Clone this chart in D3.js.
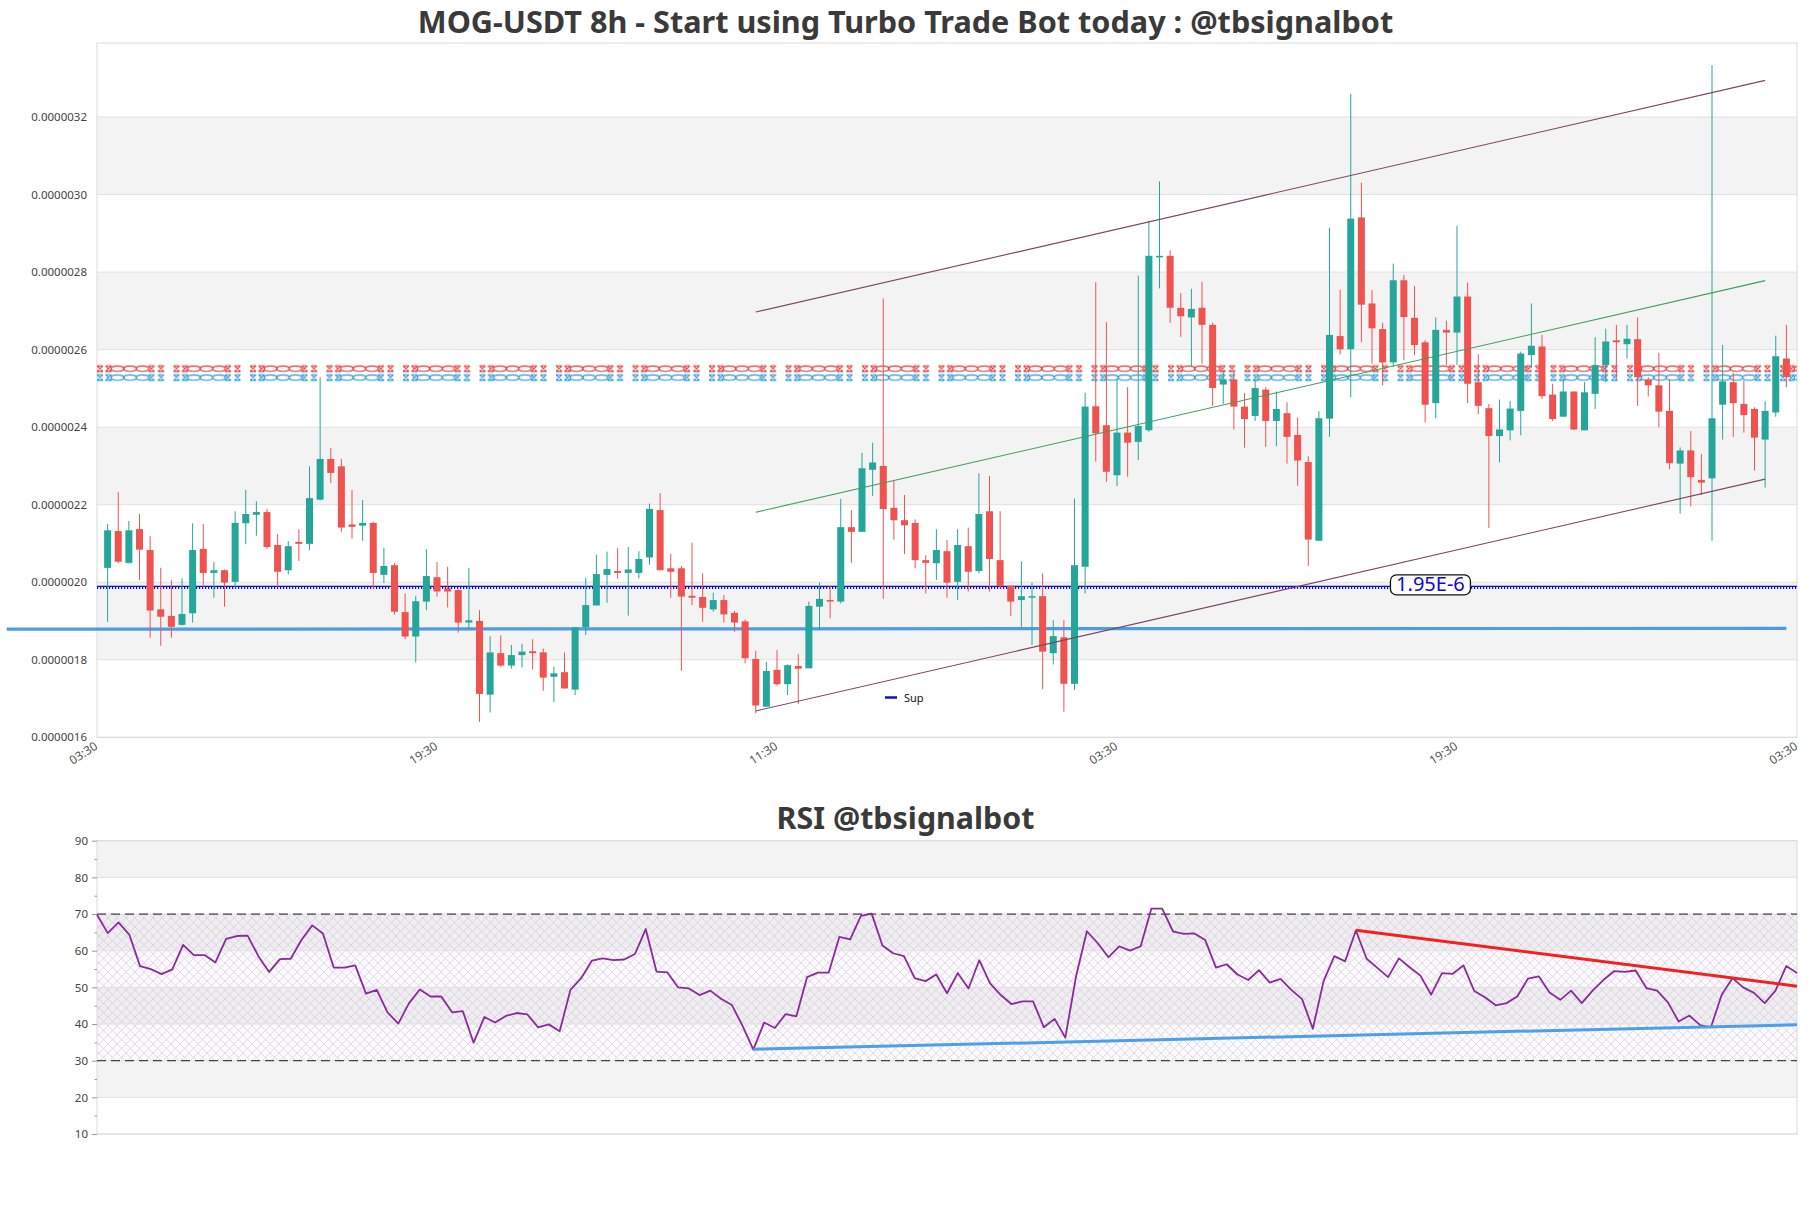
<!DOCTYPE html>
<html><head><meta charset="utf-8">
<script src="https://cdn.jsdelivr.net/npm/d3@7/dist/d3.min.js"></script>
<style>body{margin:0;background:#fff;} svg{display:block;}</style>
</head><body><svg id="c" width="1811" height="1208"></svg>
<script>
// ---------------- DATA (prices in units of 1e-6) ----------------
const mainTitle = "MOG-USDT 8h - Start using Turbo Trade Bot today : @tbsignalbot";
const rsiTitle = "RSI @tbsignalbot";
const candleIndex = d3.range(1, 160);
const opens = [2.037,2.132,2.050,2.137,2.083,1.930,1.913,1.890,1.920,2.086,2.024,2.031,2.001,2.152,2.174,2.181,2.096,2.031,2.104,2.099,
2.213,2.318,2.299,2.149,2.146,2.153,2.019,2.044,1.923,1.860,1.950,2.013,1.984,1.980,1.896,1.900,1.710,1.817,1.785,1.812,
1.822,1.819,1.756,1.768,1.723,1.884,1.940,2.019,2.029,2.024,2.024,2.064,2.186,2.036,2.036,1.965,1.962,1.930,1.954,1.921,
1.899,1.802,1.679,1.774,1.737,1.784,1.778,1.937,1.954,1.950,2.142,2.130,2.290,2.300,2.192,2.160,2.153,2.057,2.049,2.080,
2.001,2.093,2.029,2.183,2.057,1.991,1.954,1.961,1.964,1.817,1.858,1.738,2.040,2.454,2.405,2.276,2.386,2.362,2.392,2.838,
2.842,2.708,2.683,2.708,2.664,2.510,2.523,2.453,2.429,2.497,2.416,2.436,2.380,2.310,2.107,2.422,2.635,2.601,2.941,2.719,
2.653,2.567,2.779,2.682,2.619,2.462,2.651,2.644,2.737,2.516,2.449,2.377,2.392,2.442,2.586,2.608,2.484,2.427,2.492,2.392,
2.486,2.560,2.624,2.614,2.627,2.523,2.508,2.442,2.306,2.340,2.264,2.268,2.458,2.516,2.460,2.447,2.368,2.438,2.577];
const highs = [2.150,2.232,2.158,2.176,2.119,2.037,2.006,2.010,2.152,2.150,2.052,2.033,2.183,2.238,2.209,2.189,2.124,2.106,2.137,2.299,
2.529,2.346,2.318,2.238,2.212,2.155,2.089,2.049,1.971,1.965,2.085,2.052,2.040,1.982,2.037,1.928,1.861,1.863,1.838,1.841,
1.853,1.829,1.782,1.819,1.884,2.012,2.071,2.079,2.088,2.091,2.080,2.203,2.230,2.073,2.042,2.102,2.023,1.973,1.967,1.926,
1.904,1.823,1.795,1.825,1.788,1.815,1.950,1.999,1.991,2.215,2.186,2.334,2.360,2.732,2.261,2.225,2.162,2.070,2.137,2.109,
2.137,2.141,2.281,2.274,2.183,1.991,2.054,1.999,2.023,1.902,1.902,2.216,2.489,2.774,2.671,2.525,2.503,2.791,2.933,3.034,
2.856,2.746,2.757,2.775,2.670,2.547,2.542,2.488,2.523,2.503,2.492,2.464,2.425,2.325,2.441,2.915,2.755,3.260,3.031,2.754,
2.670,2.822,2.793,2.764,2.625,2.683,2.675,2.919,2.773,2.588,2.460,2.471,2.468,2.595,2.719,2.638,2.512,2.523,2.492,2.516,
2.632,2.654,2.664,2.664,2.683,2.529,2.592,2.523,2.348,2.390,2.331,3.334,2.612,2.540,2.521,2.451,2.467,2.636,2.664];
const lows = [1.898,2.050,2.048,2.006,1.857,1.836,1.857,1.888,1.896,1.988,1.960,1.937,1.984,2.098,2.120,2.086,1.988,2.020,2.055,2.083,
2.211,2.256,2.130,2.112,2.107,1.982,1.998,1.917,1.853,1.793,1.928,1.963,1.935,1.870,1.881,1.640,1.664,1.782,1.777,1.780,
1.775,1.720,1.691,1.726,1.709,1.864,1.940,1.947,2.009,1.914,2.010,2.045,2.030,1.960,1.772,1.941,1.898,1.924,1.896,1.872,
1.791,1.662,1.679,1.733,1.709,1.686,1.778,1.877,1.907,1.945,2.050,2.130,2.223,1.957,2.110,2.073,2.036,1.971,2.006,1.960,
1.954,1.976,2.023,1.976,1.984,1.913,1.885,1.838,1.724,1.788,1.666,1.722,1.971,2.311,2.259,2.248,2.272,2.315,2.388,2.758,
2.669,2.633,2.557,2.564,2.455,2.460,2.394,2.347,2.416,2.349,2.351,2.306,2.249,2.042,2.107,2.375,2.588,2.477,2.619,2.564,
2.508,2.555,2.573,2.586,2.412,2.423,2.560,2.560,2.462,2.434,2.140,2.309,2.366,2.379,2.553,2.473,2.416,2.427,2.392,2.392,
2.447,2.516,2.525,2.577,2.455,2.479,2.400,2.292,2.177,2.196,2.225,2.107,2.368,2.375,2.386,2.288,2.244,2.427,2.503];
const closes = [2.134,2.053,2.134,2.084,1.927,1.911,1.885,1.918,2.083,2.024,2.031,1.999,2.153,2.176,2.181,2.091,2.027,2.093,2.099,2.217,
2.318,2.282,2.141,2.143,2.153,2.024,2.042,1.924,1.860,1.951,2.016,1.976,1.976,1.896,1.902,1.712,1.819,1.785,1.812,1.821,
1.817,1.754,1.765,1.726,1.884,1.941,2.021,2.034,2.024,2.033,2.060,2.189,2.031,2.027,1.963,1.960,1.934,1.954,1.917,1.896,
1.804,1.682,1.771,1.737,1.786,1.777,1.939,1.957,1.951,2.142,2.130,2.294,2.309,2.189,2.160,2.147,2.057,2.050,2.083,1.999,
2.096,2.027,2.176,2.060,1.990,1.950,1.964,1.964,1.821,1.861,1.738,2.044,2.453,2.384,2.285,2.386,2.360,2.403,2.842,2.842,
2.708,2.686,2.705,2.664,2.501,2.523,2.453,2.421,2.501,2.416,2.447,2.375,2.314,2.110,2.423,2.638,2.601,2.938,2.716,2.655,
2.567,2.779,2.684,2.612,2.458,2.651,2.644,2.737,2.512,2.455,2.377,2.394,2.448,2.590,2.610,2.480,2.421,2.492,2.394,2.490,
2.560,2.621,2.619,2.628,2.529,2.508,2.440,2.307,2.340,2.271,2.257,2.423,2.518,2.462,2.431,2.373,2.442,2.583,2.529];
const priceTicks = [1.6,1.8,2.0,2.2,2.4,2.6,2.8,3.0,3.2];
const priceTickLabels = ["0.0000016","0.0000018","0.0000020","0.0000022","0.0000024","0.0000026","0.0000028","0.0000030","0.0000032"];
const timeTickIndex = [0,32,64,96,128,160];
const timeTickLabels = ["03:30","19:30","11:30","03:30","19:30","03:30"];
// trend channel lines [index, price]
const channelUpper = [[62,2.697],[157,3.2945]];
const channelMid = [[62,2.1806],[157,2.778]];
const channelLower = [[62,1.668],[157,2.266]];
const resistRed = 2.551, resistBlue = 2.528;
const supLevel = 1.988, supLabel = "1.95E-6", supLabelIndex = 125.5, supLegend = "Sup";
const baseLine = [[-8.5,1.879],[159,1.881]];
// RSI
const rsiValues = [69.8,64.8,67.7,64.4,55.8,55.0,53.6,54.9,61.6,58.8,58.8,56.8,63.2,64.0,64.1,58.5,54.2,57.7,57.8,62.9,
66.9,64.7,55.4,55.4,56.0,48.3,49.3,43.2,40.1,45.7,49.4,47.5,47.5,43.2,43.5,34.9,41.9,40.4,42.2,43.0,
42.6,39.1,39.9,38.0,49.3,52.5,57.3,57.9,57.4,57.6,59.1,65.9,54.3,54.1,50.0,49.7,47.9,49.1,46.9,45.2,
39.5,33.0,40.4,38.9,42.7,42.1,52.8,54.0,54.0,63.8,63.1,69.5,70.1,61.4,59.3,58.5,52.5,51.7,53.5,48.4,
53.9,49.7,57.4,51.1,47.9,45.4,46.2,46.2,39.1,41.4,36.3,53.1,65.3,62.1,58.2,61.2,60.0,61.2,71.5,71.5,
65.3,64.6,64.7,62.9,55.4,56.3,53.5,52.0,54.7,51.3,52.3,49.3,46.8,38.7,51.7,58.5,57.1,65.5,57.8,55.3,
52.8,57.9,55.5,53.2,48.0,53.9,53.7,56.0,49.0,47.3,45.1,45.7,47.5,52.4,53.0,48.6,46.6,49.1,45.7,49.1,
52.0,54.4,54.2,54.6,49.8,49.1,45.9,40.7,42.3,39.7,39.1,48.0,52.5,50.0,48.5,45.7,49.1,55.8,53.9];
const rsiTicks = [10,20,30,40,50,60,70,80,90];
const rsiMinorTicks = [15,25,35,45,55,65,75,85];
const rsiLevels = [30,70];
const rsiResistance = [[117,65.6],[158,50.3]];
const rsiSupport = [[61,33.1],[158,39.8]];

// ---------------- DRAWING ----------------
const svg = d3.select('#c');
const defs = svg.append('defs');
const FONT = "'Noto Sans', 'Open Sans', sans-serif";
const M = {l:97, r:1797, t:43, b:737.3};
const x = d3.scaleLinear().domain([0,160]).range([M.l, M.r]);
const y = d3.scaleLinear().domain([1.6,3.391]).range([M.b, M.t]);

function fitTitle(txt, cx, baseline, target){
  const t = svg.append('text').attr('x',cx).attr('y',baseline).attr('text-anchor','middle')
    .attr('font-family',FONT).attr('font-weight','bold').attr('font-size',28).attr('fill','#3a3a3a').text(txt);
  const len = t.node().getComputedTextLength();
  t.attr('font-size', 28*target/len);
}
fitTitle(mainTitle, 905.5, 32.5, 976);

const gMain = svg.append('g');
gMain.append('rect').attr('x',M.l).attr('y',M.t).attr('width',M.r-M.l).attr('height',M.b-M.t).attr('fill','#fff');
priceTicks.forEach((v,k)=>{
  if(k%2===1 && k+1<priceTicks.length){
    gMain.append('rect').attr('x',M.l).attr('width',M.r-M.l)
      .attr('y',y(priceTicks[k+1])).attr('height',y(v)-y(priceTicks[k+1])).attr('fill','#f3f3f3');
  }
});
gMain.selectAll('line.grid').data(priceTicks).join('line').attr('class','grid')
  .attr('x1',M.l).attr('x2',M.r).attr('y1',d=>y(d)).attr('y2',d=>y(d)).attr('stroke','#e1e1e1').attr('stroke-width',1);
gMain.append('rect').attr('x',M.l).attr('y',M.t).attr('width',M.r-M.l).attr('height',M.b-M.t)
  .attr('fill','none').attr('stroke','#dadada').attr('stroke-width',1);

const yAxis = d3.axisLeft(y).tickValues(priceTicks).tickFormat((d,i)=>priceTickLabels[i]).tickSize(0).tickPadding(10);
const ya = svg.append('g').attr('transform',`translate(${M.l},0)`).call(yAxis);
ya.select('.domain').remove();
ya.selectAll('text').attr('font-family',FONT).attr('font-size',11.5).attr('fill','#444');

const xAxis = d3.axisBottom(x).tickValues(timeTickIndex).tickFormat((d,i)=>timeTickLabels[i]).tickSize(0);
const xa = svg.append('g').attr('transform',`translate(0,${M.b})`).call(xAxis);
xa.select('.domain').remove();
xa.selectAll('text').attr('font-family',FONT).attr('font-size',12).attr('fill','#555')
  .attr('text-anchor','end').attr('dy',null).attr('y',0)
  .attr('transform','translate(1,11) rotate(-33)');

function braid(id, color, level){
  const yy = y(level);
  const p = defs.append('pattern').attr('id',id).attr('patternUnits','userSpaceOnUse')
    .attr('x',M.l).attr('y',yy-4).attr('width',76.5).attr('height',8);
  const g = p.append('g').attr('fill','none').attr('stroke',color).attr('stroke-width',1.15);
  [3,11.5,54.5,64].forEach(cx=>g.append('path')
    .attr('d',`M${cx-3},1.2L${cx+3},6.8M${cx-3},6.8L${cx+3},1.2M${cx-3},1.2H${cx+3}M${cx-3},6.8H${cx+3}`));
  [20.5,33,45.5].forEach(cx=>g.append('ellipse').attr('cx',cx).attr('cy',4).attr('rx',6.3).attr('ry',2.7));
  svg.append('rect').attr('x',M.l).attr('y',yy-4).attr('width',M.r-M.l).attr('height',8).attr('fill',`url(#${id})`);
}
braid('brR','#e03535',resistRed);
braid('brB','#2a95d8',resistBlue);

const ys = y(supLevel);
svg.append('line').attr('x1',M.l).attr('x2',M.r).attr('y1',ys-0.5).attr('y2',ys-0.5).attr('stroke','#1010c8').attr('stroke-width',1.3);
svg.append('line').attr('x1',M.l).attr('x2',M.r).attr('y1',ys+1.2).attr('y2',ys+1.2).attr('stroke','#1010c8')
  .attr('stroke-width',2).attr('stroke-dasharray','1.2,1.8');

const lineGen = d3.line().x(d=>x(d[0])).y(d=>y(d[1]));
svg.append('path').attr('d',lineGen(baseLine)).attr('stroke','#4497e6').attr('stroke-width',3.2).attr('fill','none').attr('opacity',0.95);

const bodyW = (x(1)-x(0))*0.66;
const gc = svg.append('g');
candleIndex.forEach((ix,k)=>{
  const o=opens[k], h=highs[k], l=lows[k], c=closes[k];
  const col = c>=o ? '#26a69a' : '#ef5350';
  const cx = x(ix);
  gc.append('line').attr('x1',cx).attr('x2',cx).attr('y1',y(h)).attr('y2',y(l)).attr('stroke',col).attr('stroke-width',1);
  const top = y(Math.max(o,c)), bot = y(Math.min(o,c));
  gc.append('rect').attr('x',cx-bodyW/2).attr('width',bodyW).attr('y',top).attr('height',Math.max(1.5,bot-top)).attr('fill',col);
});

[[channelUpper,'#7e4560'],[channelLower,'#7e4560'],[channelMid,'#3f9f57']].forEach(([pts,col])=>{
  svg.append('path').attr('d',lineGen(pts)).attr('stroke',col).attr('stroke-width',1.1).attr('fill','none');
});

const lx = x(supLabelIndex);
const lg = svg.append('g');
lg.append('rect').attr('x',lx-40).attr('y',ys-12).attr('width',80).attr('height',20).attr('rx',6)
  .attr('fill','#fff').attr('stroke','#111').attr('stroke-width',1.3);
lg.append('text').attr('x',lx).attr('y',ys+4.5).attr('text-anchor','middle').attr('font-family',FONT)
  .attr('font-size',20).attr('fill','#0a0ae6').text(supLabel);

svg.append('line').attr('x1',885).attr('x2',897).attr('y1',697.5).attr('y2',697.5).attr('stroke','#1010c8').attr('stroke-width',2.5);
svg.append('text').attr('x',904).attr('y',701.5).attr('font-family',FONT).attr('font-size',11).attr('fill','#111').text(supLegend);

// ---------------- RSI PANEL ----------------
const R = {l:97, r:1797, t:840.7, b:1134};
const rx = d3.scaleLinear().domain([0, rsiValues.length-1]).range([R.l, R.r]);
const ry = d3.scaleLinear().domain([10,90]).range([R.b, R.t]);
fitTitle(rsiTitle, 905.5, 829, 258);

svg.append('rect').attr('x',R.l).attr('y',R.t).attr('width',R.r-R.l).attr('height',R.b-R.t).attr('fill','#fff');
rsiTicks.forEach((v,k)=>{
  if(k%2===1 && k+1<rsiTicks.length){
    svg.append('rect').attr('x',R.l).attr('width',R.r-R.l).attr('y',ry(rsiTicks[k+1])).attr('height',ry(v)-ry(rsiTicks[k+1])).attr('fill','#f3f3f3');
  }
});
const hp = defs.append('pattern').attr('id','hatch').attr('patternUnits','userSpaceOnUse').attr('width',9).attr('height',9);
hp.append('path').attr('d','M0,0L9,9M9,0L0,9').attr('stroke','#cbbfd6').attr('stroke-width',0.65).attr('fill','none');
svg.append('rect').attr('x',R.l).attr('width',R.r-R.l).attr('y',ry(70)).attr('height',ry(30)-ry(70)).attr('fill','rgba(140,90,170,0.035)');
svg.append('rect').attr('x',R.l).attr('width',R.r-R.l).attr('y',ry(70)).attr('height',ry(30)-ry(70)).attr('fill','url(#hatch)').attr('opacity',0.85);
svg.selectAll('line.rgrid').data(rsiTicks).join('line').attr('class','rgrid')
  .attr('x1',R.l).attr('x2',R.r).attr('y1',d=>ry(d)).attr('y2',d=>ry(d)).attr('stroke','#e1e1e1');
svg.append('rect').attr('x',R.l).attr('y',R.t).attr('width',R.r-R.l).attr('height',R.b-R.t)
  .attr('fill','none').attr('stroke','#dadada');
rsiLevels.forEach(v=>svg.append('line').attr('x1',R.l).attr('x2',R.r).attr('y1',ry(v)).attr('y2',ry(v))
  .attr('stroke','#444').attr('stroke-width',1.2).attr('stroke-dasharray','9,5'));
const ra = svg.append('g').attr('transform',`translate(${R.l},0)`)
  .call(d3.axisLeft(ry).tickValues(rsiTicks).tickSize(5).tickPadding(4));
ra.select('.domain').remove();
ra.selectAll('line').attr('stroke','#999');
ra.selectAll('text').attr('font-family',FONT).attr('font-size',11.5).attr('fill','#444');
const rm = svg.append('g').attr('transform',`translate(${R.l},0)`)
  .call(d3.axisLeft(ry).tickValues(rsiMinorTicks).tickSize(2.5).tickFormat(''));
rm.select('.domain').remove();
rm.selectAll('line').attr('stroke','#999');
svg.append('path').datum(rsiValues).attr('d',d3.line().x((d,i)=>rx(i)).y(d=>ry(d)))
  .attr('fill','none').attr('stroke','#8b2a9c').attr('stroke-width',1.8).attr('stroke-linejoin','round');
const rl = d3.line().x(d=>rx(d[0])).y(d=>ry(d[1]));
svg.append('path').attr('d',rl(rsiSupport)).attr('stroke','#4aa0ea').attr('stroke-width',3).attr('fill','none');
svg.append('path').attr('d',rl(rsiResistance)).attr('stroke','#f22222').attr('stroke-width',3).attr('fill','none');
</script></body></html>
